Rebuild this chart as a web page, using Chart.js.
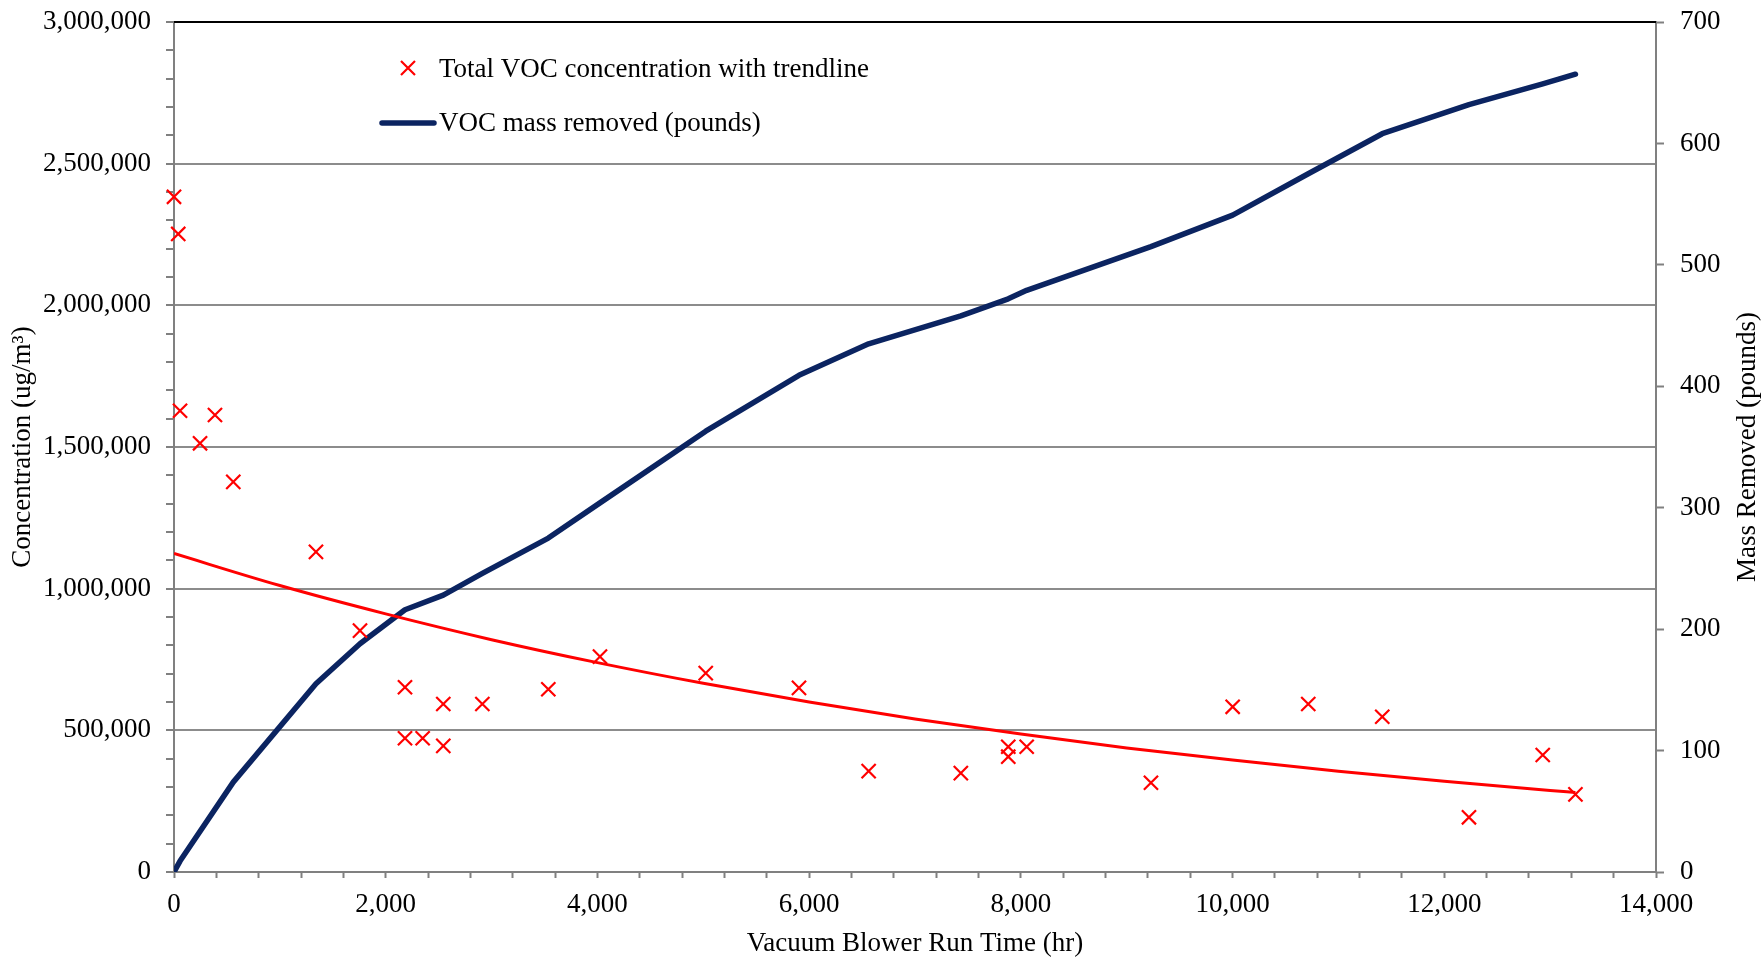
<!DOCTYPE html>
<html>
<head>
<meta charset="utf-8">
<title>VOC concentration and mass removed</title>
<script src="https://cdn.jsdelivr.net/npm/chart.js@4.4.1/dist/chart.umd.min.js"></script>
<style>
  html, body { margin: 0; padding: 0; background: #fff; }
  canvas { display: block; }
</style>
</head>
<body>
<canvas id="voc-chart" width="1762" height="957"></canvas>
<script>
// sampling run times (hr) and total VOC concentration (ug/m3)
const sampleHours = [0, 40, 57, 246, 387, 560, 1341, 1757, 2182, 2182, 2349, 2544, 2544, 2913, 3536,
    4024, 5023, 5904, 6562, 7433, 7881, 7881, 8055, 9229, 10001, 10715, 11414, 12233, 12930, 13239];
const vocConc = [2383000, 2252000, 1628000, 1513000, 1613000, 1377000, 1130000, 852000, 652000, 472000,
    472000, 593000, 445000, 593000, 645000, 760000, 702000, 650000, 356000, 349000,
    442000, 407000, 442000, 315000, 583000, 593000, 548000, 193000, 413000, 274000];

// trendline as it is drawn on the chart
const trendHours = [0, 1000, 2000, 3000, 4000, 5000, 6000, 7000, 8000, 9000, 10000, 11000, 12000, 13000, 13239];
const trendConc = [1124000, 1011000, 911000, 820000, 739000, 666000, 600000, 540000, 487000, 438000,
    395000, 356000, 320000, 288000, 281000];

// cumulative VOC mass removed (pounds)
const massHours = [0, 57, 560, 1341, 1757, 2182, 2544, 2913, 3536, 4024, 5023, 5904, 6562, 7433,
    7881, 8055, 9229, 10001, 10715, 11414, 12233, 12930, 13239];
const massRemoved = [0, 9, 74, 155, 188, 216, 228, 246, 275, 304, 363, 409, 435, 458,
    472, 479, 515, 541, 575, 608, 632, 649, 657];

const hourAxis = { min: 0, max: 14000, major: 2000, minor: 400 };
const concAxis = { min: 0, max: 3000000, major: 500000, minor: 100000 };
const massAxis = { min: 0, max: 700, major: 100 };

const seriesNames = ['Total VOC concentration with trendline', 'VOC mass removed (pounds)'];

const RED = '#ff0000';
const NAVY = '#0b2461';
const AXIS_GRAY = '#808080';
const FONT = '"Liberation Serif", "Times New Roman", serif';

Chart.defaults.font.family = FONT;
Chart.defaults.font.size = 27;
Chart.defaults.color = '#000';

function pairs(xs, ys) {
    return xs.map((x, i) => ({ x: x, y: ys[i] }));
}

function fmt(v) {
    return v.toLocaleString('en-US');
}

// keep the plot box where the original has it
function fixVertical(width) {
    return s => {
        s.width = width;
        s.paddingTop = 0;
        s.paddingBottom = 0;
    };
}

// top frame line, legend and right-hand title
const decorPlugin = {
    id: 'decor',
    afterDraw(chart) {
        const ctx = chart.ctx;
        const area = chart.chartArea;
        ctx.save();

        ctx.strokeStyle = '#000';
        ctx.lineWidth = 2;
        ctx.beginPath();
        ctx.moveTo(area.left, area.top);
        ctx.lineTo(area.right, area.top);
        ctx.stroke();

        // legend
        const lx = area.left + 234;
        ctx.strokeStyle = RED;
        ctx.lineWidth = 2.2;
        ctx.beginPath();
        ctx.moveTo(lx - 7, 61);
        ctx.lineTo(lx + 7, 75);
        ctx.moveTo(lx - 7, 75);
        ctx.lineTo(lx + 7, 61);
        ctx.stroke();

        ctx.strokeStyle = NAVY;
        ctx.lineWidth = 5.5;
        ctx.lineCap = 'round';
        ctx.beginPath();
        ctx.moveTo(area.left + 208, 123);
        ctx.lineTo(area.left + 260, 123);
        ctx.stroke();

        ctx.fillStyle = '#000';
        ctx.font = '27px ' + FONT;
        ctx.textAlign = 'left';
        ctx.textBaseline = 'alphabetic';
        ctx.fillText(seriesNames[0], area.left + 265, 77);
        ctx.fillText(seriesNames[1], area.left + 265, 131);

        // right axis title, reading bottom to top
        ctx.translate(1755, (area.top + area.bottom) / 2);
        ctx.rotate(-Math.PI / 2);
        ctx.textAlign = 'center';
        ctx.fillText('Mass Removed (pounds)', 0, 0);
        ctx.restore();
    }
};

const ctx = document.getElementById('voc-chart').getContext('2d');
new Chart(ctx, {
    type: 'scatter',
    data: {
        datasets: [
            {
                label: seriesNames[0],
                type: 'scatter',
                data: pairs(sampleHours, vocConc),
                yAxisID: 'y',
                pointStyle: 'crossRot',
                pointRadius: 10,
                pointBorderWidth: 2.2,
                borderColor: RED,
                backgroundColor: RED,
                clip: false,
                order: 0
            },
            {
                label: 'trendline',
                type: 'line',
                data: pairs(trendHours, trendConc),
                yAxisID: 'y',
                borderColor: RED,
                borderWidth: 3,
                pointRadius: 0,
                cubicInterpolationMode: 'monotone',
                fill: false,
                order: 1
            },
            {
                label: seriesNames[1],
                type: 'line',
                data: pairs(massHours, massRemoved),
                yAxisID: 'y1',
                borderColor: NAVY,
                borderWidth: 5.5,
                borderJoinStyle: 'round',
                borderCapStyle: 'round',
                pointRadius: 0,
                tension: 0,
                fill: false,
                order: 2
            }
        ]
    },
    options: {
        responsive: false,
        animation: false,
        devicePixelRatio: 1,
        layout: { padding: { top: 22, left: 0, right: 0, bottom: 0 } },
        plugins: {
            legend: { display: false },
            tooltip: { enabled: false }
        },
        scales: {
            x: {
                type: 'linear',
                position: 'bottom',
                min: hourAxis.min,
                max: hourAxis.max,
                ticks: {
                    stepSize: hourAxis.minor,
                    autoSkip: false,
                    maxRotation: 0,
                    padding: 11,
                    callback: v => (v % hourAxis.major === 0 ? fmt(v) : '')
                },
                grid: { drawOnChartArea: false, tickLength: 6, tickColor: AXIS_GRAY, tickWidth: 2 },
                border: { color: AXIS_GRAY, width: 2 },
                title: {
                    display: true,
                    text: 'Vacuum Blower Run Time (hr)',
                    font: { size: 27, lineHeight: 1 },
                    padding: { top: 0, bottom: 0 }
                },
                afterFit: s => { s.height = 85; }
            },
            y: {
                type: 'linear',
                position: 'left',
                min: concAxis.min,
                max: concAxis.max,
                ticks: {
                    stepSize: concAxis.minor,
                    autoSkip: false,
                    padding: 15,
                    callback: v => (v % concAxis.major === 0 ? fmt(v) : '')
                },
                grid: {
                    color: c => (c.tick && c.tick.value % concAxis.major === 0 ? '#8c8c8c' : 'rgba(0,0,0,0)'),
                    lineWidth: 2,
                    tickLength: 8,
                    tickColor: AXIS_GRAY,
                    tickWidth: 2
                },
                border: { color: AXIS_GRAY, width: 2 },
                title: {
                    display: true,
                    text: 'Concentration (ug/m\u00b3)',
                    font: { size: 27, lineHeight: 1 },
                    padding: { top: 9, bottom: 0 }
                },
                afterFit: fixVertical(174)
            },
            y1: {
                type: 'linear',
                position: 'right',
                min: massAxis.min,
                max: massAxis.max,
                ticks: { stepSize: massAxis.major, autoSkip: false, padding: 16 },
                grid: { drawOnChartArea: false, tickLength: 8, tickColor: AXIS_GRAY, tickWidth: 2 },
                border: { color: AXIS_GRAY, width: 2 },
                afterFit: fixVertical(106)
            }
        }
    },
    plugins: [decorPlugin]
});
</script>
</body>
</html>
